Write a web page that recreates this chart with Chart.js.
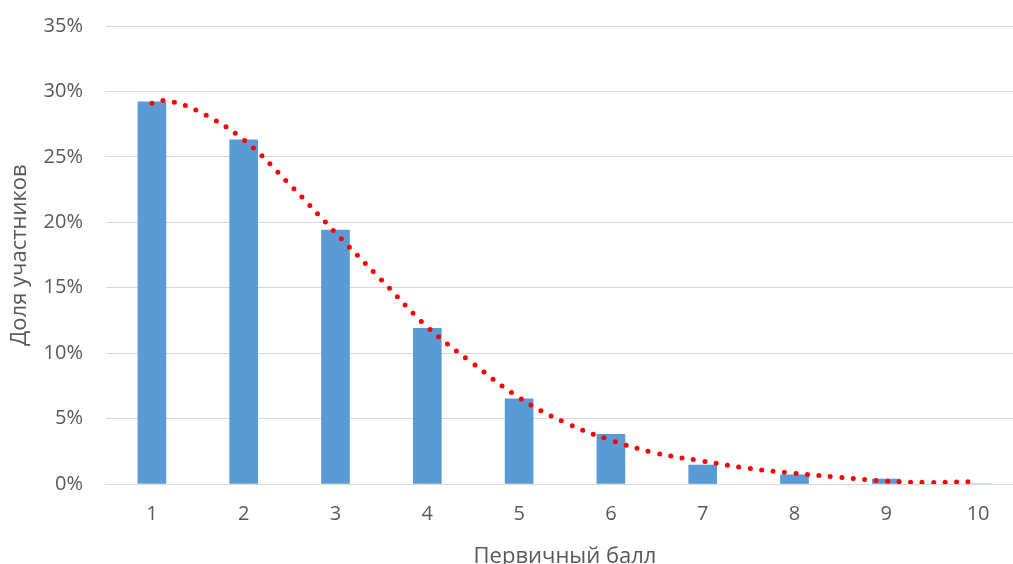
<!DOCTYPE html>
<html>
<head>
<meta charset="utf-8">
<script src="https://cdn.jsdelivr.net/npm/chart.js@4.4.1/dist/chart.umd.min.js"></script>
<style>
    html, body { margin: 0; padding: 0; background: #ffffff; overflow: hidden; }
    #wrap { width: 1013px; height: 564px; overflow: hidden; position: relative; }
    #chart { position: absolute; left: 0; top: -9px; }
</style>
</head>
<body>
<div id="wrap"><canvas id="chart" width="1030" height="591"></canvas></div>
<script>
const scores = ['1', '2', '3', '4', '5', '6', '7', '8', '9', '10'];
const shares = [29.2, 26.3, 19.4, 11.9, 6.5, 3.8, 1.45, 0.7, 0.38, 0];

// trend curve (x = score, y = percent)
const trendX = [1, 1.15, 1.5, 2, 2.5, 3, 3.5, 4, 4.5, 5, 5.5, 6, 6.5, 7, 7.5, 8, 8.5, 9, 9.5, 10];
const trendY = [29.1, 29.3, 28.5, 26.3, 22.9, 19.2, 15.6, 12.0, 9.2, 6.6, 4.7, 3.35, 2.35, 1.75, 1.2, 0.82, 0.5, 0.22, 0.12, 0.2];

const yTicks = [0, 5, 10, 15, 20, 25, 30, 35];

const textColor = '#595959';
const gridColor = '#d9d9d9';
const font = { family: '"Open Sans", "Noto Sans", sans-serif', size: 20 };
const titleFont = { family: '"Open Sans", "Noto Sans", sans-serif', size: 22 };

const ctx = document.getElementById('chart').getContext('2d');

new Chart(ctx, {
    data: {
        labels: scores,
        datasets: [
            {
                type: 'bar',
                data: shares,
                backgroundColor: '#5b9bd5',
                barThickness: 28,
                grouped: false,
                order: 2
            },
            {
                type: 'line',
                xAxisID: 'xt',
                data: trendX.map((x, i) => ({ x: x, y: trendY[i] })),
                borderColor: '#ff0000',
                borderWidth: 5,
                borderDash: [0, 11.5],
                borderCapStyle: 'round',
                pointRadius: 0,
                tension: 0.4,
                fill: false,
                order: 1
            }
        ]
    },
    options: {
        responsive: false,
        animation: false,
        devicePixelRatio: 1,
        layout: { padding: { left: 0, right: 6, top: 17, bottom: 0 } },
        plugins: {
            legend: { display: false },
            tooltip: { enabled: false }
        },
        scales: {
            x: {
                type: 'category',
                offset: true,
                grid: { display: false, drawTicks: false },
                border: { display: true, color: gridColor },
                ticks: { color: textColor, font: font, padding: 18 },
                title: {
                    display: true,
                    text: 'Первичный балл',
                    color: textColor,
                    font: titleFont,
                    padding: { top: 0, bottom: 12 }
                },
                afterFit: scale => { scale.height = 98; }
            },
            xt: {
                type: 'linear',
                display: false,
                min: 0.5,
                max: 10.5
            },
            y: {
                min: 0,
                max: 35,
                afterBuildTicks: scale => { scale.ticks = yTicks.map(v => ({ value: v })); },
                grid: { color: gridColor, drawTicks: false },
                border: { display: false },
                ticks: {
                    color: textColor,
                    font: font,
                    padding: 23,
                    callback: v => v + '%'
                },
                title: {
                    display: true,
                    text: 'Доля участников',
                    color: textColor,
                    font: titleFont,
                    padding: { top: 7, bottom: 0 }
                },
                afterFit: scale => { scale.width = 106; }
            }
        }
    }
});
</script>
</body>
</html>
